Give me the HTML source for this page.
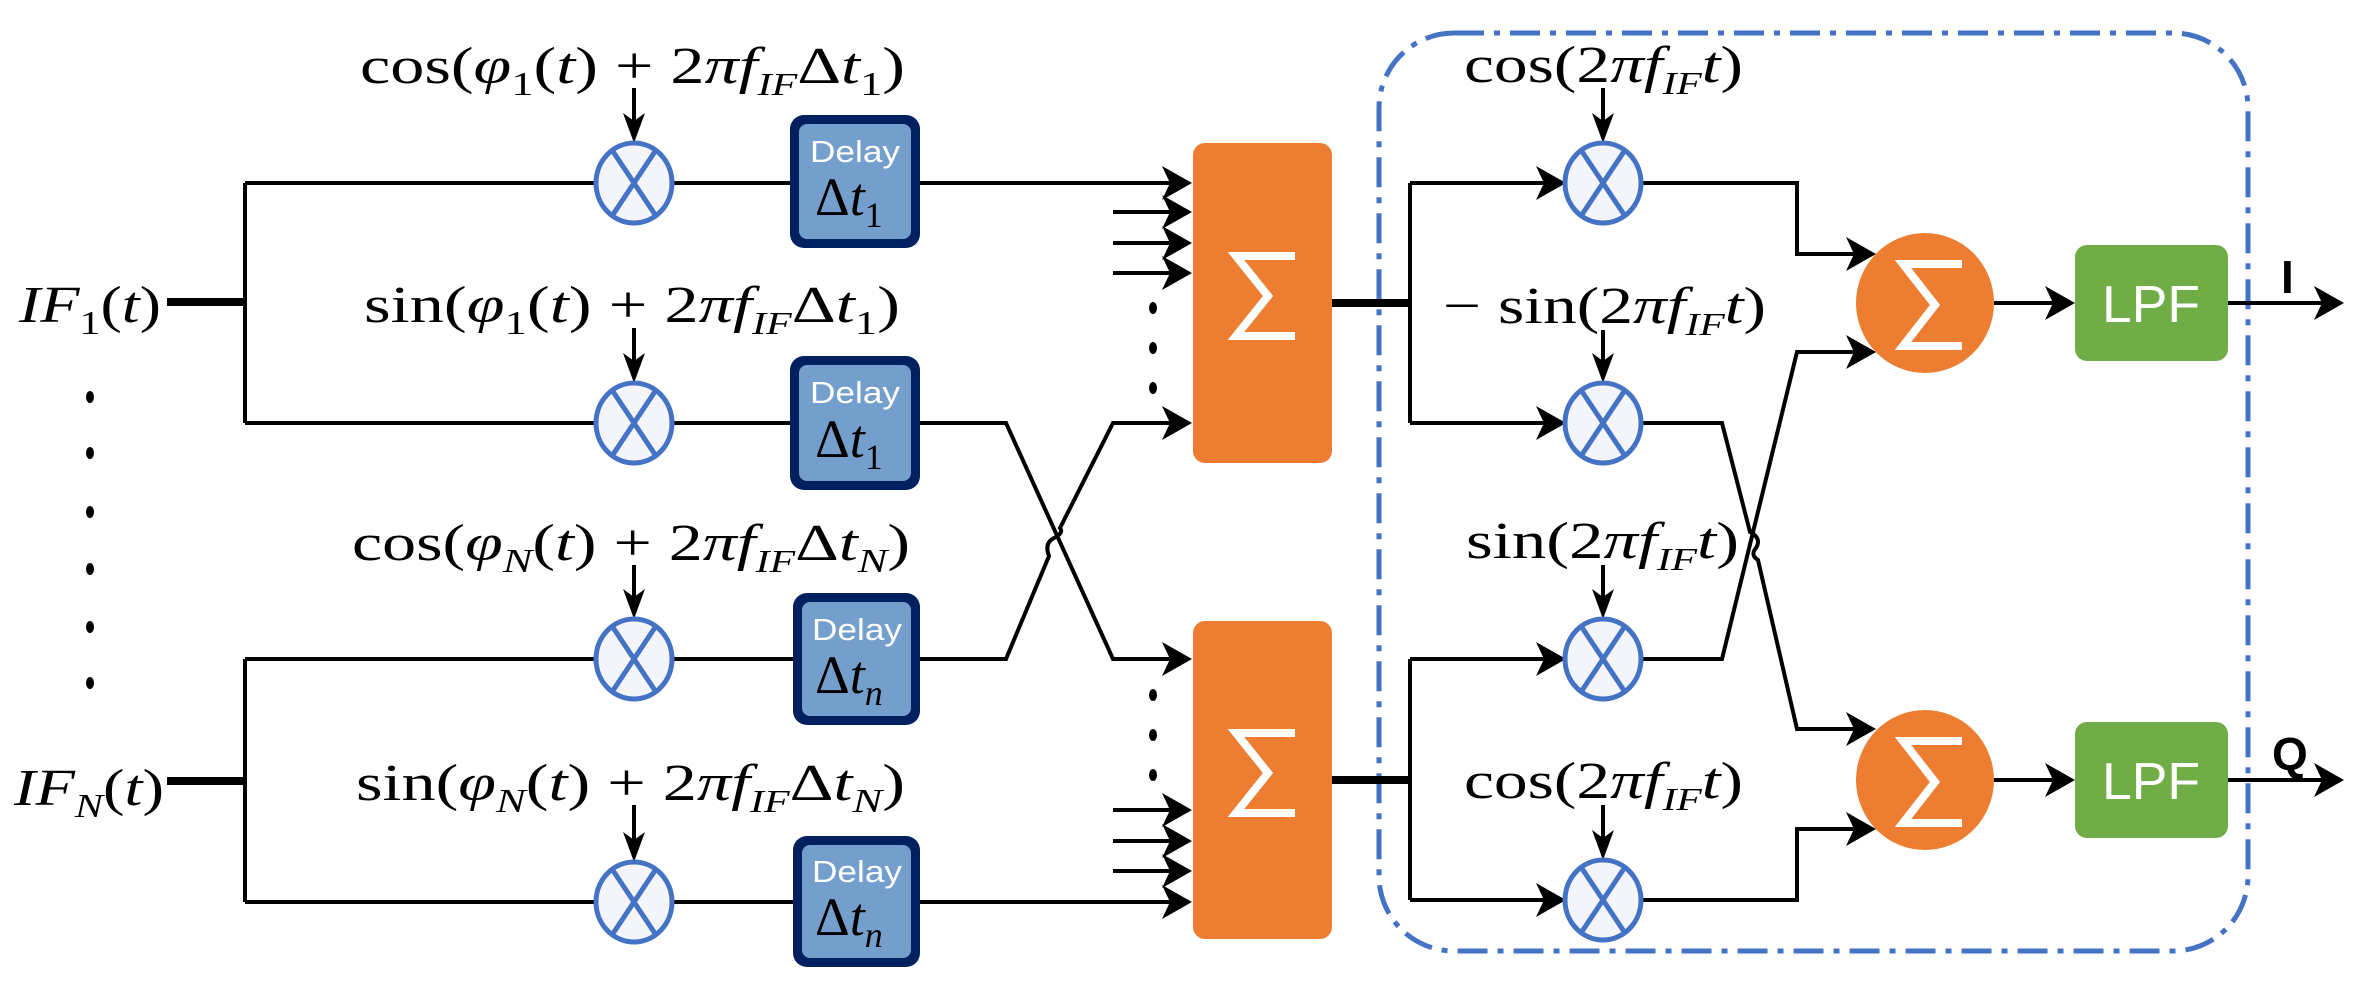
<!DOCTYPE html>
<html><head><meta charset="utf-8"><style>
html,body{margin:0;padding:0;background:#fff;}
svg{display:block;}
text{font-family:"Liberation Serif",serif;}
.s{font-family:"Liberation Sans",sans-serif;}
.w{fill:#fff;}
</style></head><body>
<svg width="2365" height="990" viewBox="0 0 2365 990" xmlns="http://www.w3.org/2000/svg">
<defs>
<g id="mul"><ellipse cx="0" cy="0" rx="38" ry="40" fill="#f3f5fb" stroke="#4472c4" stroke-width="5"/><line x1="-22" y1="-33" x2="22" y2="33" stroke="#4472c4" stroke-width="5"/><line x1="22" y1="-33" x2="-22" y2="33" stroke="#4472c4" stroke-width="5"/></g>
<polygon id="ah" points="0,0 -30,-17 -22,0 -30,17" fill="#000"/>
<polygon id="av" points="0,0 -11,-30 0,-22 11,-30" fill="#000"/>
</defs>

<rect x="1379" y="33" width="869" height="918" rx="75" fill="none" stroke="#4472c4" stroke-width="5" stroke-dasharray="30,10,6,10"/>

<g stroke="#000" stroke-width="4" fill="none">
<line x1="245" y1="183" x2="245" y2="423"/>
<line x1="245" y1="659" x2="245" y2="902"/>
<line x1="245" y1="183" x2="790" y2="183"/>
<line x1="245" y1="423" x2="790" y2="423"/>
<line x1="245" y1="659" x2="795" y2="659"/>
<line x1="245" y1="902" x2="795" y2="902"/>
<line x1="920" y1="183" x2="1180" y2="183"/>
<line x1="920" y1="902" x2="1180" y2="902"/>
<path d="M920,423 L1006,423 L1113,659 L1180,659"/>
<path d="M920,659 L1006,659 L1049,556 Q1044,543 1054,538 Q1064,533 1060,528 L1113,423 L1180,423"/>
<line x1="1113" y1="212" x2="1180" y2="212"/>
<line x1="1113" y1="243" x2="1180" y2="243"/>
<line x1="1113" y1="273" x2="1180" y2="273"/>
<line x1="1113" y1="810" x2="1180" y2="810"/>
<line x1="1113" y1="841" x2="1180" y2="841"/>
<line x1="1113" y1="871" x2="1180" y2="871"/>
<line x1="634" y1="88" x2="634" y2="130"/>
<line x1="634" y1="328" x2="634" y2="370"/>
<line x1="634" y1="565" x2="634" y2="606"/>
<line x1="634" y1="805" x2="634" y2="849"/>
<line x1="1410" y1="183" x2="1410" y2="423"/>
<line x1="1410" y1="659" x2="1410" y2="900"/>
<line x1="1410" y1="183" x2="1560" y2="183"/>
<line x1="1410" y1="423" x2="1560" y2="423"/>
<line x1="1410" y1="659" x2="1560" y2="659"/>
<line x1="1410" y1="900" x2="1560" y2="900"/>
<path d="M1641,183 L1797,183 L1797,254 L1865,254"/>
<path d="M1641,900 L1797,900 L1797,829 L1865,829"/>
<path d="M1641,659 L1722,659 L1797,352 L1865,352"/>
<path d="M1641,423 L1722,423 L1750,532 Q1762,538 1756,548 Q1750,555 1758,560 L1797,729 L1865,729"/>
<line x1="1603" y1="88" x2="1603" y2="130"/>
<line x1="1603" y1="330" x2="1603" y2="370"/>
<line x1="1603" y1="565" x2="1603" y2="606"/>
<line x1="1603" y1="805" x2="1603" y2="847"/>
<line x1="1994" y1="303" x2="2065" y2="303"/>
<line x1="1994" y1="780" x2="2065" y2="780"/>
<line x1="2228" y1="303" x2="2335" y2="303"/>
<line x1="2228" y1="780" x2="2335" y2="780"/>
</g>
<g stroke="#000" stroke-width="8">
<line x1="167" y1="302" x2="247" y2="302"/>
<line x1="167" y1="781" x2="247" y2="781"/>
<line x1="1332" y1="303" x2="1412" y2="303"/>
<line x1="1332" y1="780" x2="1412" y2="780"/>
</g>

<use href="#ah" x="1192" y="183"/><use href="#ah" x="1192" y="212"/><use href="#ah" x="1192" y="243"/><use href="#ah" x="1192" y="273"/><use href="#ah" x="1192" y="423"/>
<use href="#ah" x="1192" y="659"/><use href="#ah" x="1192" y="810"/><use href="#ah" x="1192" y="841"/><use href="#ah" x="1192" y="871"/><use href="#ah" x="1192" y="902"/>
<use href="#ah" x="1566" y="183"/><use href="#ah" x="1566" y="423"/><use href="#ah" x="1566" y="659"/><use href="#ah" x="1566" y="900"/>
<use href="#ah" x="1876" y="254"/><use href="#ah" x="1876" y="352"/><use href="#ah" x="1876" y="729"/><use href="#ah" x="1876" y="829"/>
<use href="#ah" x="2075" y="303"/><use href="#ah" x="2075" y="780"/>
<use href="#ah" x="2344" y="303"/><use href="#ah" x="2344" y="780"/>
<use href="#av" x="634" y="143"/><use href="#av" x="634" y="383"/><use href="#av" x="634" y="619"/><use href="#av" x="634" y="862"/>
<use href="#av" x="1603" y="143"/><use href="#av" x="1603" y="383"/><use href="#av" x="1603" y="619"/><use href="#av" x="1603" y="860"/>

<g fill="#000">
<ellipse cx="90" cy="397" rx="4" ry="6"/><ellipse cx="90" cy="453" rx="4" ry="6"/><ellipse cx="90" cy="512" rx="4" ry="6"/><ellipse cx="90" cy="569" rx="4" ry="6"/><ellipse cx="90" cy="627" rx="4" ry="6"/><ellipse cx="90" cy="683" rx="4" ry="6"/>
<ellipse cx="1153" cy="308" rx="4" ry="6"/><ellipse cx="1153" cy="348" rx="4" ry="6"/><ellipse cx="1153" cy="388" rx="4" ry="6"/>
<ellipse cx="1153" cy="695" rx="4" ry="6"/><ellipse cx="1153" cy="735" rx="4" ry="6"/><ellipse cx="1153" cy="775" rx="4" ry="6"/>
</g>

<use href="#mul" x="634" y="183"/><use href="#mul" x="634" y="423"/><use href="#mul" x="634" y="659"/><use href="#mul" x="634" y="902"/>
<use href="#mul" x="1603" y="183"/><use href="#mul" x="1603" y="423"/><use href="#mul" x="1603" y="659"/><use href="#mul" x="1603" y="900"/>

<rect x="790" y="115" width="130" height="133" rx="14" fill="#002060"/><rect x="799" y="124" width="112" height="115" rx="8" fill="#749fcc"/>
<rect x="790" y="356" width="130" height="134" rx="14" fill="#002060"/><rect x="799" y="365" width="112" height="116" rx="8" fill="#749fcc"/>
<rect x="793" y="593" width="127" height="132" rx="14" fill="#002060"/><rect x="802" y="602" width="109" height="114" rx="8" fill="#749fcc"/>
<rect x="793" y="836" width="127" height="131" rx="14" fill="#002060"/><rect x="802" y="845" width="109" height="113" rx="8" fill="#749fcc"/>
<g font-size="31" text-anchor="middle">
<text class="s w" x="855" y="162" textLength="90" lengthAdjust="spacingAndGlyphs">Delay</text>
<text class="s w" x="855" y="403" textLength="90" lengthAdjust="spacingAndGlyphs">Delay</text>
<text class="s w" x="857" y="640" textLength="90" lengthAdjust="spacingAndGlyphs">Delay</text>
<text class="s w" x="857" y="882" textLength="90" lengthAdjust="spacingAndGlyphs">Delay</text>
</g>
<g font-size="54">
<text x="815" y="215">Δ<tspan font-style="italic">t</tspan><tspan font-size="36" dy="12">1</tspan></text>
<text x="815" y="457">Δ<tspan font-style="italic">t</tspan><tspan font-size="36" dy="12">1</tspan></text>
<text x="815" y="693">Δ<tspan font-style="italic">t</tspan><tspan font-size="36" dy="12" font-style="italic">n</tspan></text>
<text x="815" y="935">Δ<tspan font-style="italic">t</tspan><tspan font-size="36" dy="12" font-style="italic">n</tspan></text>
</g>

<rect x="1193" y="143" width="139" height="320" rx="12" fill="#ed7d31"/>
<rect x="1193" y="621" width="139" height="318" rx="12" fill="#ed7d31"/>
<ellipse cx="1925" cy="303" rx="69" ry="70" fill="#ed7d31"/>
<ellipse cx="1925" cy="780" rx="69" ry="70" fill="#ed7d31"/>
<g fill="none" stroke="#fff" stroke-width="8">
<polyline points="1295,256 1236,256 1268,296 1236,336 1295,336"/>
<polyline points="1295,733 1236,733 1268,773 1236,813 1295,813"/>
<polyline points="1962,264 1903,264 1935,305 1903,346 1962,346"/>
<polyline points="1962,741 1903,741 1935,782 1903,823 1962,823"/>
</g>

<rect x="2075" y="245" width="153" height="116" rx="12" fill="#70ad47"/>
<rect x="2075" y="722" width="153" height="116" rx="12" fill="#70ad47"/>
<text class="s w" x="2151" y="322" font-size="52" text-anchor="middle" textLength="98" lengthAdjust="spacingAndGlyphs">LPF</text>
<text class="s w" x="2151" y="799" font-size="52" text-anchor="middle" textLength="98" lengthAdjust="spacingAndGlyphs">LPF</text>
<text class="s" x="2281" y="293" font-size="46" font-weight="bold">I</text>
<text class="s" x="2272" y="770" font-size="46" font-weight="bold">Q</text>

<g font-size="52">
<text x="19" y="322" textLength="142" lengthAdjust="spacingAndGlyphs"><tspan font-style="italic">IF</tspan><tspan font-size="34" dy="12">1</tspan><tspan dy="-12">(</tspan><tspan font-style="italic">t</tspan>)</text>
<text x="14" y="805" textLength="150" lengthAdjust="spacingAndGlyphs"><tspan font-style="italic">IF</tspan><tspan font-size="34" dy="12" font-style="italic">N</tspan><tspan dy="-12">(</tspan><tspan font-style="italic">t</tspan>)</text>

<text x="360" y="83" textLength="545" lengthAdjust="spacingAndGlyphs">cos(<tspan font-style="italic">φ</tspan><tspan font-size="34" dy="12">1</tspan><tspan dy="-12">(</tspan><tspan font-style="italic">t</tspan>) + 2<tspan font-style="italic">πf</tspan><tspan font-size="32" dy="12" font-style="italic">IF</tspan><tspan dy="-12">Δ</tspan><tspan font-style="italic">t</tspan><tspan font-size="34" dy="12">1</tspan><tspan dy="-12">)</tspan></text>
<text x="364" y="322" textLength="536" lengthAdjust="spacingAndGlyphs">sin(<tspan font-style="italic">φ</tspan><tspan font-size="34" dy="12">1</tspan><tspan dy="-12">(</tspan><tspan font-style="italic">t</tspan>) + 2<tspan font-style="italic">πf</tspan><tspan font-size="32" dy="12" font-style="italic">IF</tspan><tspan dy="-12">Δ</tspan><tspan font-style="italic">t</tspan><tspan font-size="34" dy="12">1</tspan><tspan dy="-12">)</tspan></text>
<text x="352" y="560" textLength="558" lengthAdjust="spacingAndGlyphs">cos(<tspan font-style="italic">φ</tspan><tspan font-size="34" dy="12" font-style="italic">N</tspan><tspan dy="-12">(</tspan><tspan font-style="italic">t</tspan>) + 2<tspan font-style="italic">πf</tspan><tspan font-size="32" dy="12" font-style="italic">IF</tspan><tspan dy="-12">Δ</tspan><tspan font-style="italic">t</tspan><tspan font-size="34" dy="12" font-style="italic">N</tspan><tspan dy="-12">)</tspan></text>
<text x="356" y="800" textLength="549" lengthAdjust="spacingAndGlyphs">sin(<tspan font-style="italic">φ</tspan><tspan font-size="34" dy="12" font-style="italic">N</tspan><tspan dy="-12">(</tspan><tspan font-style="italic">t</tspan>) + 2<tspan font-style="italic">πf</tspan><tspan font-size="32" dy="12" font-style="italic">IF</tspan><tspan dy="-12">Δ</tspan><tspan font-style="italic">t</tspan><tspan font-size="34" dy="12" font-style="italic">N</tspan><tspan dy="-12">)</tspan></text>

<text x="1464" y="82" textLength="279" lengthAdjust="spacingAndGlyphs">cos(2<tspan font-style="italic">πf</tspan><tspan font-size="32" dy="12" font-style="italic">IF</tspan><tspan dy="-12" font-style="italic">t</tspan>)</text>
<text x="1443" y="323" textLength="323" lengthAdjust="spacingAndGlyphs">− sin(2<tspan font-style="italic">πf</tspan><tspan font-size="32" dy="12" font-style="italic">IF</tspan><tspan dy="-12" font-style="italic">t</tspan>)</text>
<text x="1466" y="558" textLength="273" lengthAdjust="spacingAndGlyphs">sin(2<tspan font-style="italic">πf</tspan><tspan font-size="32" dy="12" font-style="italic">IF</tspan><tspan dy="-12" font-style="italic">t</tspan>)</text>
<text x="1464" y="798" textLength="279" lengthAdjust="spacingAndGlyphs">cos(2<tspan font-style="italic">πf</tspan><tspan font-size="32" dy="12" font-style="italic">IF</tspan><tspan dy="-12" font-style="italic">t</tspan>)</text>
</g>
</svg>
</body></html>
